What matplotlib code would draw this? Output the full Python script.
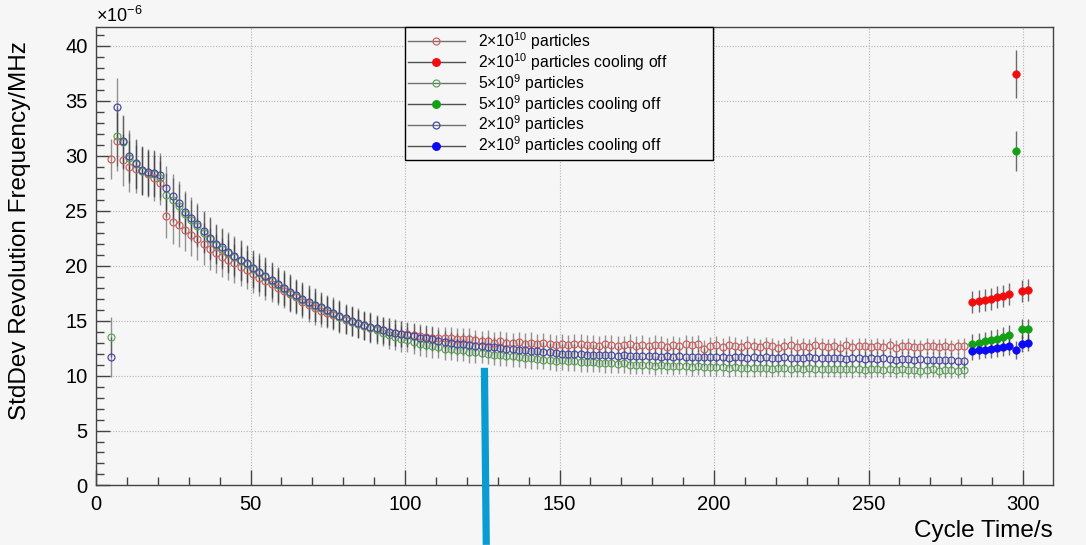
import numpy as np
import matplotlib
matplotlib.use('Agg')
import matplotlib.pyplot as plt
from matplotlib.lines import Line2D
from matplotlib.ticker import MultipleLocator

plt.rcParams['font.family'] = ['Liberation Sans', 'DejaVu Sans']
plt.rcParams['mathtext.fontset'] = 'custom'
plt.rcParams['mathtext.rm'] = 'Liberation Sans'
plt.rcParams['mathtext.it'] = 'Liberation Sans:italic'
plt.rcParams['mathtext.bf'] = 'Liberation Sans:bold'

# StdDev of revolution frequency, in units of 1e-6 MHz, one sample every 2 s
t_start = 4.8
t_step = 2.0

std_2e10 = [
    29.7, 31.3, 29.6, 29.0, 28.8, 28.6, 28.3, 28.0, 27.5, 24.5,
    24.0, 23.7, 23.2, 22.8, 22.4, 21.95, 21.5, 21.1, 20.75, 20.5,
    20.2, 19.9, 19.6, 19.2, 18.9, 18.6, 18.3, 18.0, 17.7, 17.4,
    17.1, 16.7, 16.4, 16.1, 15.85, 15.7, 15.5, 15.3, 15.05, 14.9,
    14.7, 14.5, 14.35, 14.2, 14.1, 14.0, 13.9, 13.8, 13.75, 13.7,
    13.6, 13.5, 13.45, 13.4, 13.45, 13.4, 13.35, 13.3, 13.3,
    13.2, 13.1, 13.15, 13.0, 13.1, 13.0, 12.95, 13.05, 12.9, 13.0, 12.85, 12.95, 12.9, 12.8,
    12.9, 12.8, 12.85, 12.9, 12.75, 12.8, 12.7, 12.85, 12.8, 12.7,
    12.75, 12.9, 12.7, 12.8, 12.65, 12.8, 12.75, 12.6, 12.8, 12.7,
    12.85, 12.75, 12.9,
    12.4, 12.7, 12.8, 12.6, 12.75, 12.7, 12.55, 12.8, 12.7, 12.6,
    12.75, 12.65, 12.5, 12.7, 12.8, 12.6, 12.7, 12.55, 12.75, 12.65,
    12.6, 12.7, 12.5, 12.75, 12.6, 12.7, 12.65, 12.55, 12.7, 12.6,
    12.75, 12.5, 12.65, 12.7, 12.6, 12.55, 12.7, 12.65, 12.6, 12.7,
    12.55, 12.65, 12.7,
]

std_5e9 = [
    13.5, 31.8, 31.2, 29.8, 29.2, 28.6, 28.4, 28.3, 28.0, 26.4,
    25.95, 25.4, 24.7, 24.1, 23.6, 23.0, 22.4, 21.9, 21.5, 21.1,
    20.75, 20.4, 20.1, 19.65, 19.3, 18.95, 18.6, 18.2, 17.9, 17.5,
    17.2, 16.9, 16.6, 16.35, 16.1, 15.85, 15.6, 15.35, 15.1, 14.9,
    14.7, 14.5, 14.3, 14.1, 13.9, 13.65, 13.5, 13.35, 13.2, 13.05,
    12.9, 12.75, 12.7, 12.55, 12.45, 12.4, 12.3, 12.3, 12.15,
    12.1, 12.05, 12.0, 11.9, 11.85, 11.8, 11.75, 11.7, 11.6, 11.55, 11.5, 11.45, 11.4, 11.35,
    11.4, 11.3, 11.3, 11.25, 11.2, 11.2, 11.15, 11.1, 11.1, 11.05,
    11.1, 11.0, 11.0, 10.95, 11.0, 10.9, 10.95, 10.9, 10.85, 10.9,
    10.85, 10.8, 10.85,
    10.8, 10.75, 10.8, 10.75, 10.7, 10.75, 10.7, 10.7, 10.65, 10.7,
    10.65, 10.6, 10.7, 10.65, 10.6, 10.65, 10.6, 10.65, 10.6, 10.55,
    10.6, 10.6, 10.55, 10.6, 10.55, 10.6, 10.5, 10.55, 10.6, 10.5,
    10.55, 10.5, 10.55, 10.5, 10.5, 10.45, 10.5, 10.55, 10.45, 10.5,
    10.5, 10.45, 10.5,
]

std_2e9 = [
    11.7, 34.4, 31.3, 30.0, 29.3, 28.7, 28.5, 28.4, 28.2, 27.1,
    26.3, 25.7, 24.9, 24.3, 23.75, 23.1, 22.5, 22.0, 21.65, 21.25,
    20.9, 20.5, 20.2, 19.75, 19.4, 19.05, 18.7, 18.3, 18.0, 17.6,
    17.3, 17.0, 16.7, 16.45, 16.2, 15.95, 15.7, 15.45, 15.2, 15.0,
    14.8, 14.6, 14.45, 14.3, 14.15, 14.0, 13.85, 13.75, 13.65, 13.55,
    13.45, 13.4, 13.3, 13.15, 13.05, 13.0, 12.9, 12.85, 12.75,
    12.7, 12.65, 12.6, 12.55, 12.5, 12.45, 12.4, 12.35, 12.3, 12.25, 12.2, 12.15, 12.1, 12.05,
    12.0, 12.0, 11.95, 11.95, 11.9, 11.9, 11.85, 11.9, 11.85, 11.8,
    11.85, 11.8, 11.8, 11.75, 11.8, 11.75, 11.7, 11.75, 11.7, 11.75,
    11.7, 11.7, 11.65,
    11.7, 11.65, 11.7, 11.65, 11.6, 11.65, 11.7, 11.6, 11.65, 11.6,
    11.65, 11.6, 11.55, 11.65, 11.6, 11.6, 11.55, 11.65, 11.6, 11.55,
    11.6, 11.55, 11.6, 11.5, 11.55, 11.6, 11.5, 11.55, 11.5, 11.55,
    11.5, 11.45, 11.5, 11.5, 11.45, 11.5, 11.4, 11.45, 11.4, 11.45,
    11.4, 11.35, 11.3,
]

err_open = [
    1.8, 2.7, 2.4, 2.3, 2.2, 2.2, 2.1, 2.1, 2.0,
    2.0, 2.0, 2.0, 1.9, 1.9, 1.9, 1.9, 1.9, 1.8, 1.8, 1.8,
    1.8, 1.8, 1.7, 1.7, 1.7, 1.7, 1.6, 1.6, 1.6, 1.6, 1.5,
    1.5, 1.5, 1.5, 1.4, 1.4, 1.4, 1.4, 1.3, 1.3, 1.3,
    1.3, 1.3, 1.2, 1.2, 1.2, 1.2, 1.2, 1.1, 1.1, 1.1,
    1.1, 1.1, 1.0, 1.0, 1.0, 1.0, 1.0, 1.0,
    0.95, 0.95, 0.95, 0.95, 0.95, 0.95, 0.95, 0.95, 0.95, 0.95,
    0.9, 0.9, 0.9, 0.9, 0.9, 0.9, 0.9, 0.9, 0.9, 0.9,
    0.85, 0.85, 0.85, 0.85, 0.85, 0.85, 0.85, 0.85, 0.85, 0.85,
    0.8, 0.8, 0.8, 0.8, 0.8, 0.8, 0.8, 0.8, 0.8, 0.8,
    0.8, 0.8, 0.8, 0.8, 0.8, 0.75, 0.75, 0.75, 0.75, 0.75,
    0.75, 0.75, 0.75, 0.75, 0.75, 0.75, 0.75, 0.75, 0.75, 0.75,
    0.75, 0.75, 0.75, 0.75, 0.75, 0.7, 0.7, 0.7, 0.7, 0.7,
    0.7, 0.7, 0.7, 0.7, 0.7, 0.7, 0.7, 0.7, 0.7, 0.7,
]

# cooling switched off at the end of the cycle
t_off_start = 283.6
std_2e10_off = [16.7, 16.8, 16.9, 17.0, 17.1, 17.25, 17.4, 37.4, 17.7, 17.75]
std_5e9_off = [12.9, 13.0, 13.1, 13.25, 13.35, 13.5, 13.7, 30.4, 14.2, 14.2]
std_2e9_off = [12.2, 12.3, 12.35, 12.4, 12.5, 12.6, 12.7, 12.3, 12.9, 13.0]
err_2e10_off = [1.0, 1.0, 1.0, 1.0, 1.0, 1.0, 1.0, 2.2, 1.0, 1.0]
err_5e9_off = [0.9, 0.9, 0.9, 0.9, 0.9, 0.9, 0.9, 1.8, 0.9, 0.9]
err_2e9_off = [0.8, 0.8, 0.8, 0.8, 0.8, 0.8, 0.8, 0.8, 0.8, 0.8]

labels = [
    r'2$\times$10$^{10}$ particles',
    r'2$\times$10$^{10}$ particles cooling off',
    r'5$\times$10$^{9}$ particles',
    r'5$\times$10$^{9}$ particles cooling off',
    r'2$\times$10$^{9}$ particles',
    r'2$\times$10$^{9}$ particles cooling off',
]

# marker (open, filled) colours per intensity
col_2e10 = ('#d06060', '#f20d0d')
col_5e9 = ('#5aa55a', '#14a014')
col_2e9 = ('#4a4aa8', '#0a0af5')

# vertical marker drawn over the plot near t = 126 s
mark_x = [125.7, 126.3]
mark_y = [10.7, -5.4]

bg = '#f6f6f6'
fig = plt.figure(figsize=(10.86, 5.45), dpi=100, facecolor=bg)
ax = fig.add_axes([0.0884, 0.1092, 0.8812, 0.8413], facecolor=bg)

t_open = t_start + t_step * np.arange(len(std_2e10))
t_off = t_off_start + t_step * np.arange(len(std_2e10_off))

series = [
    (std_2e10, std_2e10_off, err_2e10_off, col_2e10),
    (std_5e9, std_5e9_off, err_5e9_off, col_5e9),
    (std_2e9, std_2e9_off, err_2e9_off, col_2e9),
]

for vals, vals_off, err_off, cols in series:
    ax.errorbar(t_open, vals, yerr=err_open, fmt='none', ecolor='#303030',
                elinewidth=1.0, alpha=0.5, zorder=2)
    ax.errorbar(t_off, vals_off, yerr=err_off, fmt='none', ecolor='#303030',
                elinewidth=1.0, alpha=0.7, zorder=2)

for vals, vals_off, err_off, cols in series:
    ax.plot(t_open, vals, ls='none', marker='o', ms=5.0, mfc='none',
            mec=cols[0], mew=0.9, zorder=3)
    ax.plot(t_off, vals_off, ls='none', marker='o', ms=5.4, mfc=cols[1],
            mec=cols[1], mew=0.5, zorder=4)

ax.set_xlim(0, 309.7)
ax.set_ylim(0, 41.7)
ax.xaxis.set_major_locator(MultipleLocator(50))
ax.xaxis.set_minor_locator(MultipleLocator(10))
ax.yaxis.set_major_locator(MultipleLocator(5))
ax.yaxis.set_minor_locator(MultipleLocator(1))
ax.tick_params(which='both', direction='in', color='#444444', width=1,
               labelsize=14.5, top=False, right=False)
ax.tick_params(axis='x', which='major', length=11, pad=7)
ax.tick_params(axis='x', which='minor', length=5.5)
ax.tick_params(axis='y', which='major', length=10, pad=6)
ax.tick_params(axis='y', which='minor', length=6)
ax.grid(True, which='major', color='#b4b4b4', lw=0.8, ls=(0, (1, 1.5)))
for s in ax.spines.values():
    s.set_color('#444444')
    s.set_linewidth(1.0)

ax.set_xlabel('Cycle Time/s', fontsize=17.5, loc='right')
ax.xaxis.set_label_coords(1.0, -0.075)
ax.set_ylabel('StdDev Revolution Frequency/MHz', fontsize=17.5, loc='top')
ax.yaxis.set_label_coords(-0.068, 0.97)
ax.text(0.0, 1.003, r'$\times$10$^{-6}$', transform=ax.transAxes,
        fontsize=13, ha='left', va='bottom')

handles = []
for cols in (col_2e10, col_5e9, col_2e9):
    handles.append(Line2D([], [], color='#707070', lw=1, marker='o', ms=5.0,
                          mfc='none', mec=cols[0], mew=0.9))
    handles.append(Line2D([], [], color='#505050', lw=1, marker='o', ms=5.4,
                          mfc=cols[1], mec=cols[1]))
leg = ax.legend(handles, labels, loc='upper left',
                bbox_to_anchor=(0.3229, 1.0, 0.3218, 0.0), mode='expand',
                fontsize=11.3, frameon=True, fancybox=False, framealpha=1,
                facecolor=bg, edgecolor='black', borderaxespad=0,
                borderpad=0.2, labelspacing=-0.05, handlelength=3.6,
                handletextpad=0.85)
leg.get_frame().set_linewidth(1.0)
leg.set_zorder(6)

ax.plot(mark_x, mark_y, color='#0b9bd3', lw=5.2, solid_capstyle='butt',
        clip_on=False, zorder=7)

fig.savefig('out.png', dpi=100, facecolor=bg)
